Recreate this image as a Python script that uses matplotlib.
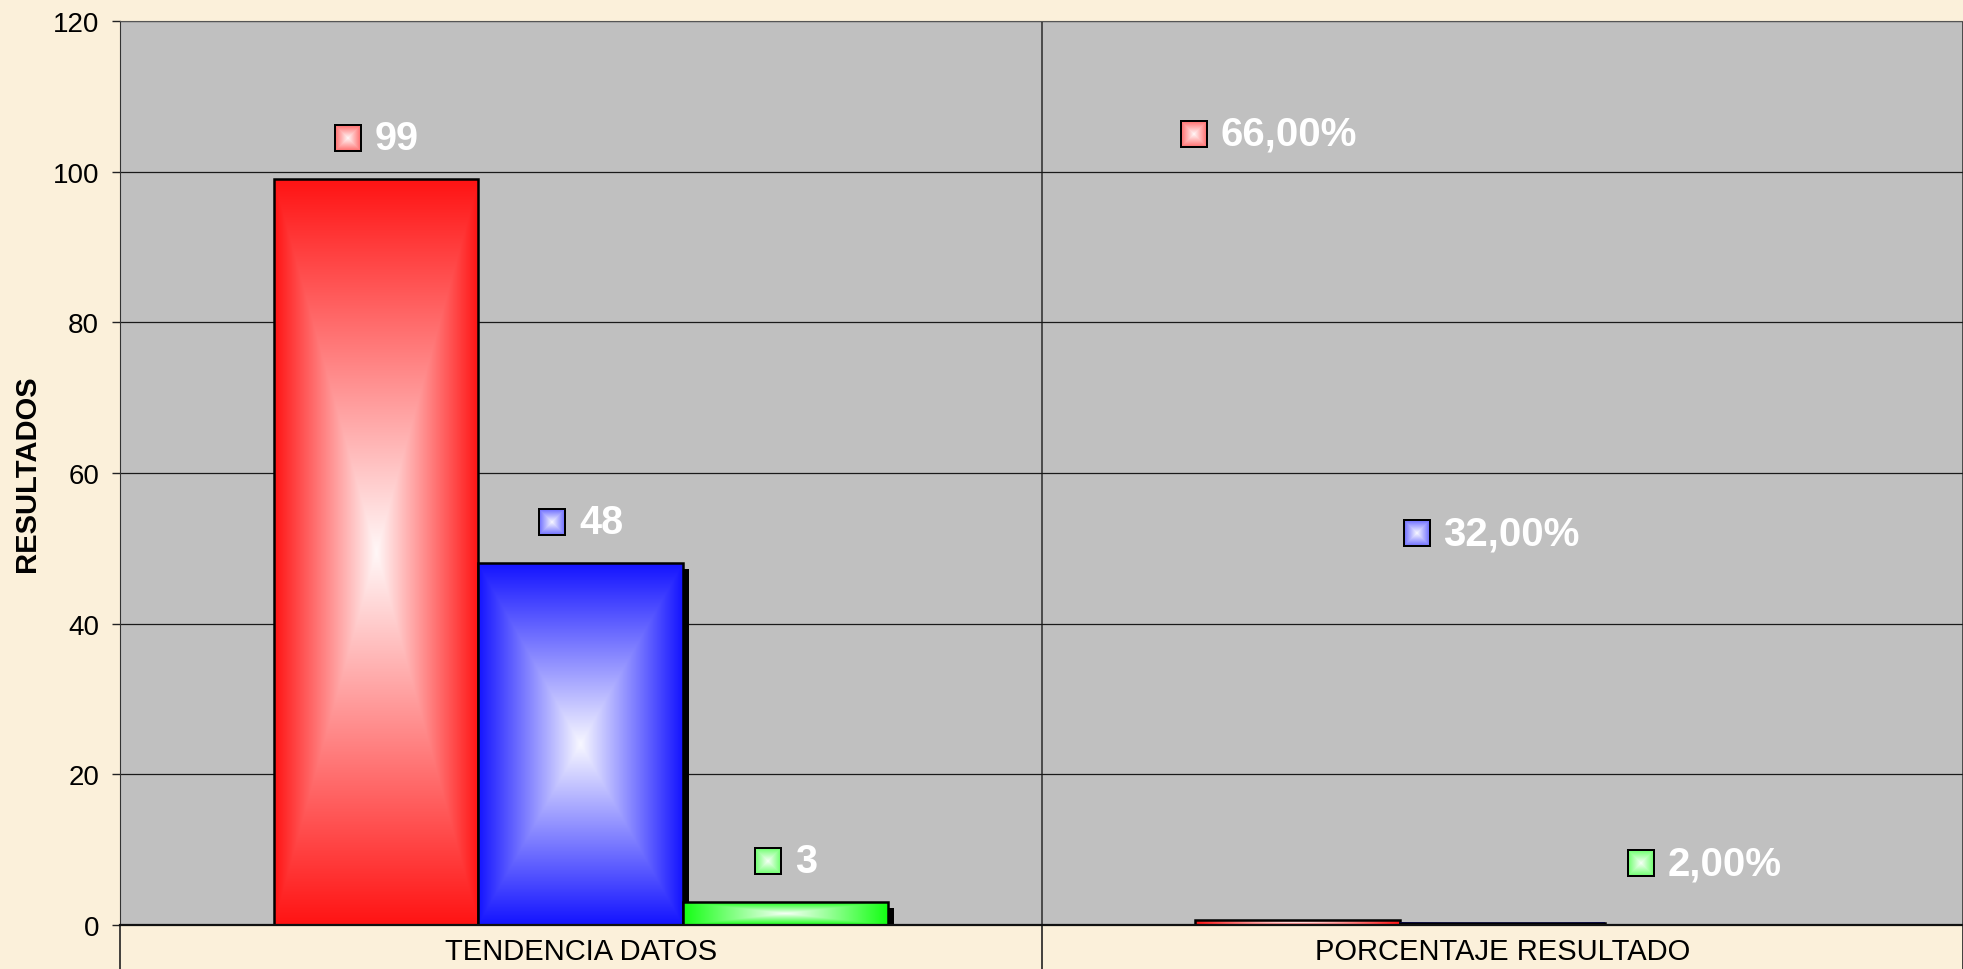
import matplotlib
matplotlib.use('Agg')
import matplotlib.pyplot as plt
import numpy as np
from matplotlib.patches import Rectangle
from matplotlib.transforms import ScaledTranslation
from matplotlib.ticker import FixedLocator
from matplotlib.offsetbox import OffsetImage, TextArea, HPacker, AnnotationBbox

plt.rcParams['font.family'] = ['Liberation Sans', 'DejaVu Sans']

# --- data ---
categories = ['TENDENCIA DATOS', 'PORCENTAJE RESULTADO']
series_colors = ['#FF1414', '#1414FF', '#14FF14']
series_shadow = [False, True, True]
tendencia = [99, 48, 3]
porcentaje = [0.66, 0.32, 0.02]
tendencia_labels = ['99', '48', '3']
porcentaje_labels = ['66,00%', '32,00%', '2,00%']
# percentage labels were moved by hand in the original sheet
porcentaje_label_y = [105.0, 52.0, 8.2]
porcentaje_label_dx = [-0.031, -0.012, -0.003]

DPI = 100
fig = plt.figure(figsize=(19.63, 9.70), dpi=DPI, facecolor='#FBF0DA')
ax = fig.add_axes([120 / 1963, 44 / 970, 1 - 120 / 1963, (926 - 22) / 970])
ax.set_facecolor('#C0C0C0')

n_ser = len(series_colors)
w = 2 / 9
x = np.arange(len(categories))


def to_rgb(c):
    return np.array(matplotlib.colors.to_rgb(c))


def center_gradient(color, ny=200, nx=200, lo=0.0, hi=0.97):
    yy, xx = np.mgrid[-1:1:ny * 1j, -1:1:nx * 1j]
    t = np.maximum(np.abs(xx), np.abs(yy))
    mix = (1 - t)[..., None] * hi + lo
    c = to_rgb(color)
    return c + (1 - c) * np.clip(mix, 0, 1)


def marker_img(color, n=28, b=2):
    g = center_gradient(color, n, n, lo=0.35, hi=0.62)
    g[:b, :] = 0
    g[-b:, :] = 0
    g[:, :b] = 0
    g[:, -b:] = 0
    return g


shift = ScaledTranslation(6 / DPI, -6 / DPI, fig.dpi_scale_trans)
values = np.array([tendencia, porcentaje])  # rows: category, cols: series

z = 3
for s in range(n_ser):
    bars = ax.bar(x + (s - 1) * w, values[:, s], width=w, facecolor='none',
                  edgecolor='black', linewidth=1.8, zorder=z + 2)
    for b in bars:
        x0, bw, h = b.get_x(), b.get_width(), b.get_height()
        if series_shadow[s]:
            shadow = Rectangle((x0, 0), bw, h, facecolor='black', edgecolor='none',
                               transform=ax.transData + shift, zorder=z)
            ax.add_patch(shadow)
        ax.imshow(center_gradient(series_colors[s]), extent=(x0, x0 + bw, 0, h),
                  aspect='auto', interpolation='bilinear', zorder=z + 1)
    z += 3


# --- data labels with legend keys ---
def add_label(xc, yc, text, color, size):
    img = OffsetImage(marker_img(color), zoom=1, dpi_cor=False)
    txt = TextArea(text, textprops=dict(color='white', fontsize=size, fontweight='bold'))
    box = HPacker(children=[img, txt], align='center', pad=0, sep=9)
    ab = AnnotationBbox(box, (xc, yc), xycoords='data', frameon=False,
                        box_alignment=(0.5, 0.5), zorder=20)
    ax.add_artist(ab)


for s in range(n_ser):
    add_label(x[0] + (s - 1) * w, tendencia[s] + 5.5, tendencia_labels[s],
              series_colors[s], 28.5)
    add_label(x[1] + (s - 1) * w + porcentaje_label_dx[s], porcentaje_label_y[s],
              porcentaje_labels[s], series_colors[s], 29)

# --- axes ---
ax.set_xlim(-0.5, len(categories) - 0.5)
ax.set_ylim(0, 120)
ax.set_yticks(np.arange(0, 121, 20))
ax.set_xticks(x)
ax.set_xticklabels(categories)
ax.xaxis.set_minor_locator(FixedLocator([-0.5, 0.5, 1.5]))
ax.tick_params(axis='x', which='major', length=0, pad=9, labelsize=21)
ax.tick_params(axis='x', which='minor', length=32, width=1.2, color='#222222',
               direction='out')
ax.tick_params(axis='y', length=6, width=1, color='#222222', pad=9, labelsize=20)
ax.yaxis.grid(True, color='#1a1a1a', linewidth=0.9)
ax.xaxis.grid(True, which='minor', color='#2a2a2a', linewidth=1.1)
ax.set_axisbelow(True)

ax.spines['right'].set_visible(False)
ax.spines['top'].set_color('#555555')
ax.spines['left'].set_color('#333333')
ax.spines['bottom'].set_color('#111111')
ax.spines['bottom'].set_linewidth(1.6)
ax.spines['bottom'].set_zorder(30)

ax.set_ylabel('RESULTADOS', fontsize=21, fontweight='bold')
ax.yaxis.set_label_coords(-79 / 1843, 0.5)

fig.savefig('out.png', dpi=DPI, facecolor=fig.get_facecolor())
